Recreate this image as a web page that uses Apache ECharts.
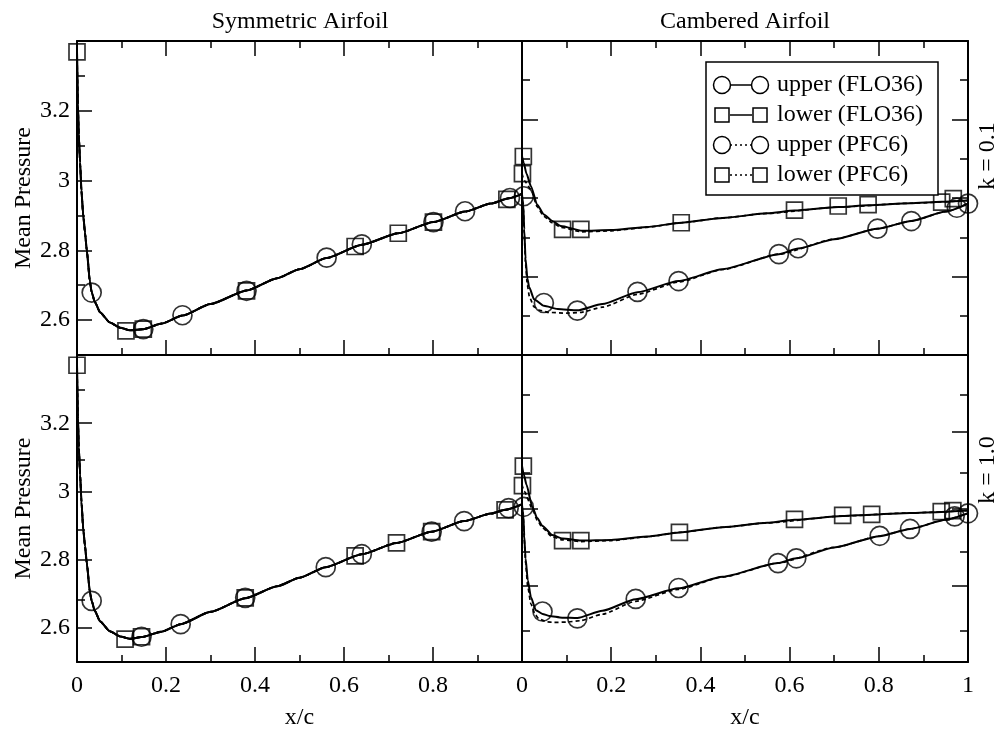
<!DOCTYPE html>
<html><head><meta charset="utf-8">
<script src="https://cdn.jsdelivr.net/npm/echarts@6/dist/echarts.min.js"></script>
<style>html,body{margin:0;padding:0;background:#fff}#c{width:1003px;height:731px}</style>
</head><body><div id="c"></div>
<script>
// ---------------- DATA ----------------
// x ticks / y tick labels
const xLabelsLeft = [0, 0.2, 0.4, 0.6, 0.8];
const yLabelValues = [2.6, 2.8, 3, 3.2];
const yMinorLeft = [2.7, 2.9, 3.1, 3.3];
const yMajorRight = [2.725, 2.95, 3.175];
const yMinorRight = [2.6125, 2.8375, 3.0625, 3.2875];

// Symmetric airfoil curves (upper = lower, FLO36 and PFC6 coincide)
const symCurveK01 = [[0,3.37],[0.002,3.22],[0.004,3.13],[0.007,3.05],[0.010,2.97],[0.014,2.90],[0.018,2.85],[0.022,2.80],[0.029,2.71],[0.033,2.68],[0.040,2.652],[0.052,2.622],[0.074,2.593],[0.097,2.578],[0.119,2.571],[0.149,2.574],[0.190,2.590],[0.237,2.613],[0.300,2.646],[0.381,2.685],[0.450,2.720],[0.500,2.746],[0.561,2.778],[0.640,2.816],[0.722,2.849],[0.801,2.881],[0.872,2.911],[0.930,2.934],[0.970,2.949],[1.000,2.962]];
const symCurveK10 = [[0,3.37],[0.002,3.22],[0.004,3.13],[0.007,3.05],[0.010,2.97],[0.014,2.89],[0.018,2.84],[0.022,2.79],[0.029,2.705],[0.033,2.679],[0.040,2.650],[0.052,2.619],[0.074,2.590],[0.097,2.575],[0.119,2.568],[0.145,2.573],[0.190,2.589],[0.233,2.611],[0.300,2.647],[0.378,2.687],[0.450,2.722],[0.500,2.747],[0.559,2.778],[0.640,2.816],[0.718,2.849],[0.797,2.882],[0.870,2.913],[0.930,2.935],[0.962,2.946],[1.000,2.962]];
// Symmetric airfoil markers
const symCircFLO_K01 = [[0.033,2.679],[0.237,2.614],[0.561,2.779],[0.801,2.881],[0.973,2.950]];
const symCircPFC_K01 = [[0.149,2.574],[0.381,2.684],[0.640,2.817],[0.872,2.912]];
const symSqFLO_K01 = [[0,3.369],[0.149,2.574],[0.625,2.811],[0.801,2.881]];
const symSqPFC_K01 = [[0.110,2.569],[0.381,2.684],[0.722,2.849],[0.966,2.946]];
const symCircFLO_K10 = [[0.033,2.679],[0.233,2.611],[0.559,2.778],[0.797,2.882],[0.970,2.951]];
const symCircPFC_K10 = [[0.145,2.574],[0.378,2.688],[0.640,2.816],[0.870,2.913]];
const symSqFLO_K10 = [[0,3.37],[0.145,2.574],[0.625,2.811],[0.797,2.882]];
const symSqPFC_K10 = [[0.108,2.567],[0.378,2.688],[0.718,2.849],[0.962,2.946]];

// Cambered airfoil curves, k = 0.1
const camUpFLO_K01 = [[0,2.96],[0.003,2.93],[0.005,2.86],[0.008,2.775],[0.012,2.72],[0.016,2.695],[0.027,2.66],[0.049,2.641],[0.080,2.632],[0.124,2.628],[0.180,2.646],[0.259,2.680],[0.351,2.712],[0.450,2.746],[0.576,2.789],[0.619,2.805],[0.700,2.832],[0.797,2.862],[0.873,2.884],[0.950,2.911],[1.000,2.934]];
const camUpPFC_K01 = [[0,2.96],[0.003,2.92],[0.005,2.85],[0.008,2.76],[0.012,2.70],[0.017,2.665],[0.027,2.638],[0.040,2.628],[0.060,2.622],[0.100,2.620],[0.130,2.622],[0.180,2.637],[0.259,2.674],[0.351,2.709],[0.450,2.745],[0.576,2.789],[0.700,2.832],[0.797,2.862],[0.873,2.884],[0.950,2.911],[1.000,2.934]];
const camLoFLO_K01 = [[0,3.07],[0.004,3.05],[0.010,3.02],[0.020,2.984],[0.034,2.931],[0.049,2.903],[0.068,2.884],[0.087,2.870],[0.135,2.856],[0.200,2.858],[0.280,2.867],[0.357,2.879],[0.450,2.893],[0.550,2.906],[0.611,2.914],[0.709,2.924],[0.776,2.929],[0.870,2.935],[0.941,2.939],[1.000,2.943]];
const camLoPFC_K01 = [[0,3.02],[0.005,3.00],[0.020,2.975],[0.034,2.925],[0.049,2.897],[0.068,2.879],[0.087,2.866],[0.135,2.853],[0.200,2.856],[0.280,2.866],[0.357,2.879],[0.450,2.893],[0.550,2.906],[0.709,2.924],[0.870,2.935],[1.000,2.943]];
const camCircFLO_K01 = [[0.004,2.955],[0.124,2.627],[0.351,2.712],[0.619,2.806],[0.873,2.884],[1.0,2.934]];
const camCircPFC_K01 = [[0.049,2.649],[0.259,2.681],[0.576,2.789],[0.797,2.862],[0.975,2.922]];
const camSqFLO_K01 = [[0.003,3.069],[0.132,2.86],[0.357,2.879],[0.709,2.927],[0.941,2.938]];
const camSqPFC_K01 = [[0.001,3.02],[0.091,2.86],[0.611,2.915],[0.776,2.931],[0.967,2.948]];

// Cambered airfoil curves, k = 1.0
const camUpFLO_K10 = [[0,2.96],[0.003,2.93],[0.005,2.87],[0.008,2.804],[0.013,2.74],[0.020,2.69],[0.031,2.652],[0.046,2.641],[0.061,2.635],[0.090,2.630],[0.124,2.629],[0.180,2.650],[0.255,2.684],[0.351,2.716],[0.450,2.750],[0.574,2.790],[0.615,2.804],[0.700,2.836],[0.802,2.869],[0.870,2.890],[0.950,2.917],[1.000,2.936]];
const camUpPFC_K10 = [[0,2.96],[0.003,2.92],[0.005,2.86],[0.008,2.79],[0.013,2.72],[0.020,2.67],[0.030,2.638],[0.038,2.626],[0.055,2.618],[0.072,2.616],[0.100,2.617],[0.130,2.621],[0.180,2.640],[0.255,2.678],[0.351,2.713],[0.450,2.749],[0.574,2.790],[0.700,2.836],[0.802,2.869],[0.870,2.890],[0.950,2.917],[1.000,2.936]];
const camLoFLO_K10 = [[0,3.075],[0.004,3.05],[0.010,3.02],[0.023,2.955],[0.034,2.922],[0.046,2.899],[0.068,2.872],[0.091,2.862],[0.132,2.856],[0.200,2.858],[0.280,2.868],[0.353,2.880],[0.450,2.895],[0.550,2.908],[0.611,2.917],[0.719,2.928],[0.784,2.932],[0.870,2.937],[0.940,2.940],[1.000,2.944]];
const camLoPFC_K10 = [[0,3.02],[0.005,3.0],[0.023,2.95],[0.034,2.916],[0.046,2.893],[0.068,2.867],[0.091,2.858],[0.132,2.853],[0.200,2.856],[0.280,2.867],[0.353,2.880],[0.450,2.895],[0.550,2.908],[0.719,2.928],[0.870,2.937],[1.000,2.944]];
const camCircFLO_K10 = [[0.004,2.955],[0.124,2.628],[0.351,2.717],[0.615,2.804],[0.870,2.890],[1.0,2.936]];
const camCircPFC_K10 = [[0.046,2.648],[0.255,2.685],[0.574,2.790],[0.802,2.870],[0.970,2.927]];
const camSqFLO_K10 = [[0.003,3.074],[0.132,2.856],[0.353,2.880],[0.719,2.930],[0.940,2.941]];
const camSqPFC_K10 = [[0.001,3.017],[0.091,2.856],[0.611,2.918],[0.784,2.933],[0.966,2.944]];

const seriesNames = ['upper (FLO36)', 'lower (FLO36)', 'upper (PFC6)', 'lower (PFC6)'];

// ---------------- CHART ----------------
const FONT = 'Liberation Serif';
const chart = echarts.init(document.getElementById('c'));
const tickLine = {color: '#000', width: 1.5};
const frameLine = {color: '#000', width: 2};
const labelStyle = {fontFamily: FONT, fontSize: 24, color: '#000'};

const rects = [
  {left: 77, top: 41, width: 445, height: 314},
  {left: 522, top: 41, width: 446, height: 314},
  {left: 77, top: 355, width: 445, height: 315},
  {left: 522, top: 355, width: 446, height: 315}
];
const grid = [], xAxis = [], yAxis = [], series = [];

function addPanel(p, isRight, isTop, curves, markers) {
  const gA = grid.length; grid.push(Object.assign({}, rects[p]));
  const gB = grid.length; grid.push(Object.assign({}, rects[p]));
  const xi = xAxis.length;
  xAxis.push({
    gridIndex: gA, type: 'value', min: 0, max: 1, interval: 0.2, position: 'bottom',
    axisLine: {show: true, onZero: false, lineStyle: frameLine},
    axisTick: {show: true, inside: true, length: 15, lineStyle: tickLine},
    minorTick: {show: true, splitNumber: 2, length: 7, lineStyle: tickLine},
    splitLine: {show: false}, minorSplitLine: {show: false},
    axisLabel: Object.assign({show: !isTop, showMaxLabel: isRight, margin: 12}, labelStyle),
    name: isTop ? '' : 'x/c', nameLocation: 'middle', nameGap: 44, nameTextStyle: labelStyle
  });
  xAxis.push({
    gridIndex: gA, type: 'value', min: 0, max: 1, interval: 0.2, position: 'top',
    axisLine: {show: true, onZero: false, lineStyle: frameLine},
    axisTick: {show: isTop, inside: true, length: 15, lineStyle: tickLine},
    minorTick: {show: isTop, splitNumber: 2, length: 7, lineStyle: tickLine},
    splitLine: {show: false}, minorSplitLine: {show: false}, axisLabel: {show: false}
  });
  xAxis.push({gridIndex: gB, type: 'value', min: 0, max: 1, show: false});
  const yi = yAxis.length;
  yAxis.push({
    gridIndex: gA, type: 'value', min: 2.5, max: 3.4, position: 'left',
    axisLine: {show: true, onZero: false, lineStyle: frameLine},
    axisTick: {show: true, inside: true, length: isRight ? 16 : 15, lineStyle: tickLine,
               customValues: isRight ? yMajorRight : yLabelValues},
    axisLabel: Object.assign({show: !isRight, customValues: yLabelValues, margin: 7}, labelStyle),
    splitLine: {show: false},
    name: isRight ? '' : 'Mean Pressure', nameLocation: 'middle', nameGap: 40, nameTextStyle: labelStyle
  });
  yAxis.push({
    gridIndex: gA, type: 'value', min: 2.5, max: 3.4, position: 'right',
    axisLine: {show: true, onZero: false, lineStyle: frameLine},
    axisTick: {show: isRight, inside: true, length: 16, lineStyle: tickLine, customValues: yMajorRight},
    axisLabel: {show: false}, splitLine: {show: false}
  });
  yAxis.push({
    gridIndex: gB, type: 'value', min: 2.5, max: 3.4, position: 'left',
    axisLine: {show: false},
    axisTick: {show: true, inside: true, length: 8, lineStyle: tickLine,
               customValues: isRight ? yMinorRight : yMinorLeft},
    axisLabel: {show: false}, splitLine: {show: false}
  });
  yAxis.push({
    gridIndex: gB, type: 'value', min: 2.5, max: 3.4, position: 'right',
    axisLine: {show: false},
    axisTick: {show: isRight, inside: true, length: 8, lineStyle: tickLine, customValues: yMinorRight},
    axisLabel: {show: false}, splitLine: {show: false}
  });
  curves.forEach((c, i) => {
    series.push({
      type: 'line', name: seriesNames[i], xAxisIndex: xi, yAxisIndex: yi, data: c,
      showSymbol: false, smooth: 0.2, smoothMonotone: 'x', silent: true,
      lineStyle: {color: '#000', width: i < 2 ? 2 : 1.7, type: i < 2 ? 'solid' : [4, 3]},
      z: i < 2 ? 3 : 2
    });
  });
  markers.forEach((m, i) => {
    const isCircle = (i % 2 === 0);
    series.push({
      type: 'scatter', name: seriesNames[i], xAxisIndex: xi, yAxisIndex: yi, data: m,
      symbol: isCircle ? 'circle' : 'rect', symbolSize: isCircle ? 19 : 16, clip: false, silent: true,
      itemStyle: {color: 'rgba(0,0,0,0)', borderColor: '#000', borderWidth: 1.7}, z: 5
    });
  });
}

addPanel(0, false, true, [symCurveK01, symCurveK01, symCurveK01, symCurveK01],
         [symCircFLO_K01, symSqFLO_K01, symCircPFC_K01, symSqPFC_K01]);
addPanel(1, true, true, [camUpFLO_K01, camLoFLO_K01, camUpPFC_K01, camLoPFC_K01],
         [camCircFLO_K01, camSqFLO_K01, camCircPFC_K01, camSqPFC_K01]);
addPanel(2, false, false, [symCurveK10, symCurveK10, symCurveK10, symCurveK10],
         [symCircFLO_K10, symSqFLO_K10, symCircPFC_K10, symSqPFC_K10]);
addPanel(3, true, false, [camUpFLO_K10, camLoFLO_K10, camUpPFC_K10, camLoPFC_K10],
         [camCircFLO_K10, camSqFLO_K10, camCircPFC_K10, camSqPFC_K10]);

// legend drawn as graphic
const legendRows = [85, 115, 145, 175];
const legendGraphics = [{
  type: 'rect', shape: {x: 706, y: 62, width: 232, height: 133},
  style: {fill: '#fff', stroke: '#000', lineWidth: 1.5}, z: 100
}];
seriesNames.forEach((n, i) => {
  const y = legendRows[i];
  const isCircle = (i % 2 === 0);
  const dashed = i >= 2;
  legendGraphics.push({type: 'line', shape: {x1: 730, y1: y, x2: 752, y2: y},
    style: {stroke: '#000', lineWidth: 1.5, lineDash: dashed ? [2, 3] : null}, z: 101});
  [722, 760].forEach(cx => {
    if (isCircle) legendGraphics.push({type: 'circle', shape: {cx: cx, cy: y, r: 8.5},
      style: {fill: 'rgba(0,0,0,0)', stroke: '#000', lineWidth: 1.5}, z: 102});
    else legendGraphics.push({type: 'rect', shape: {x: cx - 7, y: y - 7, width: 14, height: 14},
      style: {fill: 'rgba(0,0,0,0)', stroke: '#000', lineWidth: 1.5}, z: 102});
  });
  legendGraphics.push({type: 'text', x: 777, y: y,
    style: {text: n, font: '24px "Liberation Serif"', fill: '#000', verticalAlign: 'middle', align: 'left'}, z: 102});
});

const textGraphics = [
  {type: 'text', x: 300, y: 22, style: {text: 'Symmetric Airfoil', font: '24px "Liberation Serif"', fill: '#000', align: 'center', verticalAlign: 'middle'}},
  {type: 'text', x: 745, y: 22, style: {text: 'Cambered Airfoil', font: '24px "Liberation Serif"', fill: '#000', align: 'center', verticalAlign: 'middle'}},
  {type: 'text', x: 988, y: 156, rotation: Math.PI / 2, style: {text: 'k = 0.1', font: '24px "Liberation Serif"', fill: '#000', align: 'center', verticalAlign: 'middle'}},
  {type: 'text', x: 988, y: 470, rotation: Math.PI / 2, style: {text: 'k = 1.0', font: '24px "Liberation Serif"', fill: '#000', align: 'center', verticalAlign: 'middle'}}
];

chart.setOption({
  backgroundColor: '#fff',
  animation: false,
  grid: grid,
  xAxis: xAxis,
  yAxis: yAxis,
  series: series,
  graphic: legendGraphics.concat(textGraphics)
});
</script>
</body></html>
